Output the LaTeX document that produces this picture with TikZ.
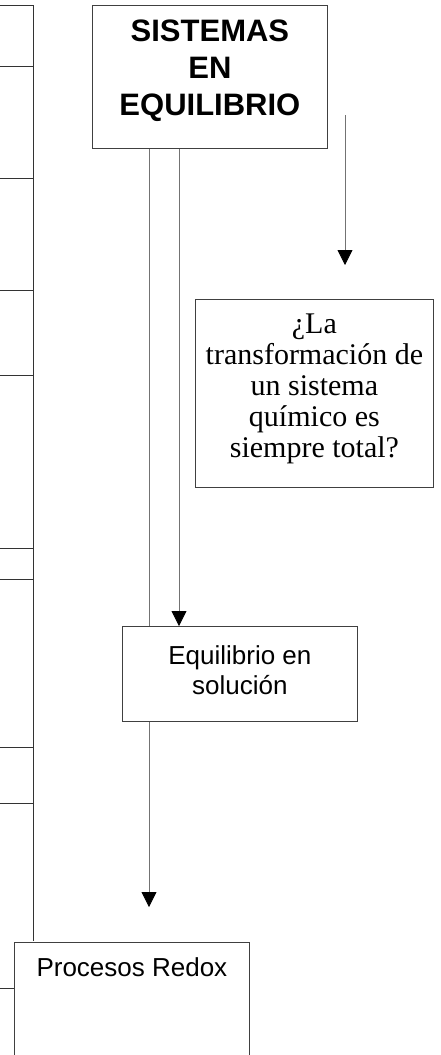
\documentclass[tikz,border=0pt]{standalone}
\usepackage{fontspec}
\setmainfont{Liberation Serif}
\newfontfamily\arialf{Liberation Sans}
\usetikzlibrary{arrows.meta}
\begin{document}
\begin{tikzpicture}[x=1pt,y=-1pt,
  box/.style={draw=black!75, line width=0.8pt, fill=white, align=center, inner sep=0pt, anchor=north west},
  conn/.style={draw=black!55, line width=0.8pt},
  arr/.style={conn, -{Triangle[width=15pt,length=15pt,fill=black,color=black]}},
  tbl/.style={draw=black!80, line width=0.9pt}]
\useasboundingbox (0,0) rectangle (440,1055);
\clip (0,0) rectangle (440,1055);
% left table fragment
\draw[tbl] (0,5) -- (33,5) -- (33,941);
\foreach \yy in {66,178,290,375,548,579,747,803}{\draw[tbl] (0,\yy) -- (33,\yy);}
\draw[tbl] (0,988) -- (14,988);
% column coordinates
\coordinate (cL) at (149,0);
\coordinate (cR) at (179,0);
\coordinate (tipB) at (149,907);
\coordinate (rs) at (345,115);
\coordinate (re) at (345,265);
% nodes
\node[box, minimum width=235pt, text height=110pt, text depth=33pt, font=\arialf\bfseries\fontsize{31}{37}\selectfont] (sis) at (92,5) {SISTEMAS\\EN\\EQUILIBRIO};
\node[box, minimum width=238pt, text height=158pt, text depth=30pt, font=\fontsize{30}{31}\selectfont] (q) at (195,299) {¿La\\transformación de\\un sistema\\químico es\\siempre total?};
% connectors
\draw[arr] (sis.south -| cL) -- (tipB);
\draw[arr] (sis.south -| cR) -- (cR |- 626,626);
\draw[arr] (rs) -- (re);
\node[box, minimum width=235pt, text height=68pt, text depth=27pt, font=\arialf\fontsize{26}{30}\selectfont] (eq) at (122,626) {Equilibrio en\\solución};
\node[box, minimum width=235pt, text height=34pt, text depth=130pt, font=\arialf\fontsize{26}{30}\selectfont] (pr) at (14,942) {Procesos Redox};
\end{tikzpicture}
\end{document}
